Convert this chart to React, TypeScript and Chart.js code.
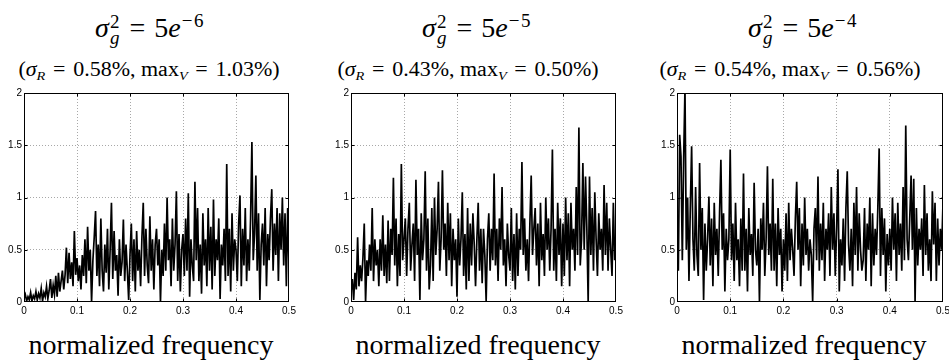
import React, { useEffect, useRef } from "react";
import { Chart, registerables } from "chart.js";

Chart.register(...registerables);

// ---- data ----
const FREQ_STEP = 0.0025;
const freqs: number[] = Array.from({ length: 201 }, (_, i) => i * FREQ_STEP);
const xTicks = [0, 0.1, 0.2, 0.3, 0.4, 0.5];
const yTicks = [0, 0.5, 1, 1.5, 2];

const spectrumA = [
  0.03, 0.07, 0.01, 0.05, 0.02, 0.09, 0.01, 0.06, 0.03, 0.1, 0.02, 0.08, 0.04, 0.13, 0.01, 0.09, 0.05, 0.15, 0.03, 0.11,
  0.22, 0.04, 0.16, 0.07, 0.25, 0.05, 0.28, 0.1, 0.2, 0.3, 0.12, 0.26, 0.52, 0.18, 0.47, 0.22, 0.38, 0.15, 0.68, 0.26,
  0.42, 0.2, 0.35, 0.12, 0.45, 0.25, 0.6, 0.18, 0.72, 0.3, 0.5, 0.0, 0.4, 0.62, 0.87, 0.25, 0.55, 0.15, 0.8, 0.3,
  0.1, 0.55, 0.28, 0.7, 0.12, 0.5, 0.95, 0.22, 0.68, 0.3, 0.45, 0.06, 0.6, 0.25, 0.38, 0.79, 0.2, 0.55, 0.3, 0.02,
  0.45, 0.75, 0.2, 0.6, 0.1, 0.68, 0.3, 0.5, 0.15, 0.62, 0.95, 0.25, 0.7, 0.35, 0.18, 0.82, 0.3, 0.6, 0.12, 0.55,
  0.7, 0.35, 0.6, 0.0, 0.5, 0.25, 0.75, 0.3, 1.0, 0.4, 0.6, 0.15, 0.8, 0.3, 0.55, 1.06, 0.2, 0.65, 0.1, 0.5,
  0.65, 0.25, 0.8, 0.3, 1.04, 0.05, 0.6, 0.35, 0.2, 1.15, 0.4, 0.9, 0.2, 0.55, 0.08, 0.85, 0.35, 0.6, 0.15, 0.9,
  0.3, 0.72, 0.12, 0.98, 0.25, 0.6, 0.4, 0.8, 0.03, 0.55, 0.35, 0.7, 0.2, 1.32, 0.25, 0.7, 0.1, 0.85, 0.3, 0.6,
  0.5, 0.2, 0.75, 1.02, 0.15, 0.7, 0.35, 0.9, 0.2, 0.6, 0.3, 0.8, 1.53, 0.4, 0.65, 1.21, 0.3, 0.85, 0.02, 0.55,
  0.75, 0.35, 0.9, 0.15, 0.65, 0.4, 0.8, 1.08, 0.3, 0.75, 0.45, 0.9, 0.2, 0.85, 0.5, 1.0, 0.35, 0.85, 0.15, 0.9, 0.35,
];

const spectrumB = [
  0.1, 0.22, 0.02, 0.28, 0.12, 0.62, 0.15, 0.35, 0.2, 0.42, 0.75, 0.0, 0.4, 0.25, 0.55, 0.3, 0.9, 0.2, 0.6, 0.35,
  0.5, 0.15, 0.6, 0.3, 0.83, 0.25, 0.55, 0.18, 0.78, 0.2, 0.7, 0.45, 1.19, 0.35, 0.8, 0.15, 0.65, 0.25, 1.32, 0.4,
  0.6, 0.8, 0.25, 0.7, 0.95, 0.3, 0.55, 0.75, 0.2, 1.17, 0.45, 0.7, 0.02, 0.85, 0.4, 0.6, 1.25, 0.3, 0.8, 0.12,
  0.35, 0.9, 0.2, 1.0, 0.45, 0.7, 1.15, 0.3, 0.6, 1.26, 0.5, 0.75, 0.25, 0.95, 0.4, 0.85, 0.15, 0.7, 0.4, 0.6,
  0.05, 0.8, 0.35, 0.6, 1.05, 0.25, 0.65, 0.12, 0.9, 0.2, 0.75, 0.35, 0.85, 0.55, 0.15, 0.6, 0.95, 0.3, 0.7, 0.18,
  0.7, 0.45, 0.01, 0.6, 0.85, 0.3, 0.7, 0.4, 1.23, 0.35, 0.7, 0.2, 0.8, 0.5, 1.1, 0.35, 0.6, 0.15, 0.75, 0.45,
  0.3, 0.9, 0.2, 0.65, 0.12, 0.85, 0.25, 0.7, 0.5, 1.34, 0.45, 0.8, 0.3, 0.6, 0.2, 0.75, 1.21, 0.45, 0.7, 0.9,
  0.35, 0.75, 0.15, 0.95, 0.4, 0.65, 0.25, 1.0, 0.5, 0.8, 0.3, 0.7, 1.46, 0.3, 0.7, 0.2, 0.95, 0.45, 0.8, 0.15,
  0.75, 0.25, 1.0, 0.4, 0.85, 0.15, 0.95, 0.5, 0.7, 0.3, 1.1, 0.45, 1.67, 0.35, 0.6, 1.33, 0.5, 1.2, 0.7, 0.0,
  1.2, 0.45, 0.9, 0.3, 1.05, 0.6, 0.25, 0.85, 0.5, 0.7, 0.3, 1.12, 0.45, 0.95, 0.3, 0.8, 0.5, 0.25, 0.95, 0.4, 0.55,
];

const spectrumC = [
  0.8, 0.3, 1.6, 1.39, 0.4, 1.37, 2.05, 0.5, 1.0, 0.2, 0.9, 1.49, 0.6, 0.3, 1.1, 0.45, 0.25, 1.33, 0.5, 0.9,
  0.02, 0.75, 0.3, 0.6, 1.01, 0.35, 0.8, 0.15, 0.95, 0.45, 0.7, 0.25, 0.85, 1.36, 0.5, 0.85, 0.1, 0.7, 0.4, 0.6,
  1.46, 0.4, 0.75, 0.2, 0.95, 0.4, 0.6, 0.15, 0.8, 0.3, 1.23, 0.3, 0.7, 0.1, 0.9, 0.45, 0.65, 0.25, 1.14, 0.5,
  0.35, 0.7, 0.0, 0.8, 0.5, 0.95, 0.25, 0.6, 1.3, 0.45, 0.75, 0.3, 1.18, 0.3, 0.75, 0.15, 0.9, 0.45, 0.7, 0.1,
  0.6, 0.3, 0.85, 0.2, 0.95, 0.4, 0.7, 0.5, 0.25, 0.8, 1.15, 0.5, 0.9, 0.15, 0.75, 0.35, 1.0, 0.45, 0.7, 0.3,
  0.6, 0.45, 0.0, 0.7, 0.9, 0.4, 1.2, 0.3, 0.75, 0.4, 0.95, 0.2, 0.7, 0.5, 0.85, 0.25, 1.1, 0.5, 0.85, 0.25,
  0.7, 1.27, 0.1, 0.6, 0.35, 0.8, 0.2, 0.9, 1.25, 0.55, 0.3, 0.7, 0.15, 0.95, 0.45, 1.1, 0.3, 0.85, 0.5, 0.3,
  0.4, 0.9, 0.2, 0.75, 0.5, 1.0, 0.15, 0.85, 0.35, 0.7, 0.45, 0.9, 1.47, 0.25, 0.9, 0.45, 0.8, 0.1, 0.65, 0.35,
  0.7, 0.3, 1.0, 0.5, 0.85, 0.2, 0.95, 0.45, 0.75, 0.3, 1.1, 0.4, 1.69, 0.6, 0.4, 0.8, 1.21, 0.5, 1.18, 0.0,
  0.9, 0.35, 0.7, 0.5, 0.8, 0.25, 1.12, 0.45, 0.85, 0.3, 0.6, 0.2, 1.06, 0.55, 0.95, 0.2, 0.8, 0.35, 0.7, 0.5, 0.95,
];

const noiseExponents = ["6", "5", "4"];
const sigmaR = ["0.58", "0.43", "0.54"];
const maxV = ["1.03", "0.50", "0.56"];
const xLabel = "normalized frequency";

const TICK_FONT = '"Liberation Sans", Arial, sans-serif';
const SERIF = '"Liberation Serif", "Times New Roman", serif';

const frameTicks = {
  id: "frameTicks",
  afterDraw(chart: any) {
    const { ctx, chartArea, scales } = chart;
    const l = Math.round(chartArea.left) + 0.5;
    const r = Math.round(chartArea.right) - 0.5;
    const t = Math.round(chartArea.top) + 0.5;
    const b = Math.round(chartArea.bottom) - 0.5;
    ctx.save();
    ctx.strokeStyle = "#000";
    ctx.lineWidth = 1;
    ctx.setLineDash([]);
    ctx.strokeRect(l, t, r - l, b - t);
    ctx.beginPath();
    const tl = 3;
    xTicks.slice(1, -1).forEach((v) => {
      const px = Math.round(scales.x.getPixelForValue(v)) + 0.5;
      ctx.moveTo(px, b);
      ctx.lineTo(px, b - tl);
      ctx.moveTo(px, t);
      ctx.lineTo(px, t + tl);
    });
    yTicks.slice(1, -1).forEach((v) => {
      const py = Math.round(scales.y.getPixelForValue(v)) + 0.5;
      ctx.moveTo(l, py);
      ctx.lineTo(l + tl, py);
      ctx.moveTo(r, py);
      ctx.lineTo(r - tl, py);
    });
    ctx.stroke();
    ctx.restore();
  },
};

function gridColor(ends: number[]) {
  return (c: any) =>
    c.tick && ends.includes(c.tick.value) ? "rgba(0,0,0,0)" : "#a8a8a8";
}

function SpectrumChart({
  values,
  left,
  width,
  padRight,
}: {
  values: number[];
  left: number;
  width: number;
  padRight: number;
}) {
  const ref = useRef<HTMLCanvasElement | null>(null);
  useEffect(() => {
    if (!ref.current) return;
    const chart = new Chart(ref.current, {
      type: "line",
      data: {
        datasets: [
          {
            data: freqs.map((f, i) => ({ x: f, y: values[i] })),
            borderColor: "#000",
            borderWidth: 1.7,
            pointRadius: 0,
            tension: 0,
            fill: false,
            clip: 0,
          },
        ],
      },
      options: {
        animation: false,
        responsive: false,
        maintainAspectRatio: false,
        events: [],
        layout: { padding: { top: 8, right: padRight, left: 0, bottom: 0 } },
        plugins: { legend: { display: false }, tooltip: { enabled: false } },
        scales: {
          x: {
            type: "linear",
            min: 0,
            max: 0.5,
            afterBuildTicks: (s: any) => {
              s.ticks = xTicks.map((v) => ({ value: v }));
            },
            afterFit: (s: any) => {
              s.height = 18;
            },
            grid: { drawTicks: false, color: gridColor([0, 0.5]), lineWidth: 1 },
            border: { display: false, dash: [1, 2] },
            ticks: {
              padding: 3,
              maxRotation: 0,
              autoSkip: false,
              color: "#000",
              font: { family: TICK_FONT, size: 10 },
              callback: (v: any) => String(v),
            },
          },
          y: {
            type: "linear",
            min: 0,
            max: 2,
            afterBuildTicks: (s: any) => {
              s.ticks = yTicks.map((v) => ({ value: v }));
            },
            afterFit: (s: any) => {
              s.width = 24;
            },
            grid: { drawTicks: false, color: gridColor([0, 2]), lineWidth: 1 },
            border: { display: false, dash: [1, 2] },
            ticks: {
              padding: 2,
              autoSkip: false,
              color: "#000",
              font: { family: TICK_FONT, size: 10 },
              callback: (v: any) => String(v),
            },
          },
        },
      },
      plugins: [frameTicks],
    } as any);
    return () => chart.destroy();
  }, [values, padRight]);
  return (
    <canvas
      ref={ref}
      width={width}
      height={235}
      style={{ position: "absolute", left, top: 85, width, height: 235 }}
    />
  );
}

function Title({ cx, exp }: { cx: number; exp: string }) {
  return (
    <div
      style={{
        position: "absolute",
        left: cx,
        top: 12,
        transform: "translateX(-50%)",
        whiteSpace: "nowrap",
        fontFamily: SERIF,
        fontSize: 28,
        lineHeight: "32px",
        color: "#000",
      }}
    >
      <i>σ</i>
      <span style={{ fontSize: 19, position: "relative", top: -9, marginLeft: 1 }}>2</span>
      <span
        style={{ fontSize: 19, fontStyle: "italic", position: "relative", top: 7, marginLeft: -9.5 }}
      >
        g
      </span>
      <span style={{ margin: "0 9px 0 10px" }}>=</span>
      5<i>e</i>
      <span style={{ fontSize: 19, position: "relative", top: -10, marginLeft: 1, letterSpacing: 1.5 }}>
        −{exp}
      </span>
    </div>
  );
}

function Subtitle({ cx, s, m }: { cx: number; s: string; m: string }) {
  const sub: React.CSSProperties = {
    fontSize: 13,
    fontStyle: "italic",
    position: "relative",
    top: 4,
  };
  return (
    <div
      style={{
        position: "absolute",
        left: cx,
        top: 57,
        transform: "translateX(-50%) scaleX(1.1)",
        whiteSpace: "nowrap",
        fontFamily: SERIF,
        fontSize: 20,
        lineHeight: "24px",
        color: "#000",
      }}
    >
      (<i>σ</i>
      <span style={sub}>R</span>
      <span style={{ margin: "0 7px" }}>=</span>
      {s}%,<span style={{ marginLeft: 5 }}>max</span>
      <span style={sub}>V</span>
      <span style={{ margin: "0 7px" }}>=</span>
      {m}%)
    </div>
  );
}

function XLabel({ cx }: { cx: number }) {
  return (
    <div
      style={{
        position: "absolute",
        left: cx,
        top: 329,
        transform: "translateX(-50%)",
        whiteSpace: "nowrap",
        fontFamily: SERIF,
        fontSize: 28,
        lineHeight: "32px",
        color: "#000",
      }}
    >
      {xLabel}
    </div>
  );
}

export default function App() {
  const panels = [
    { values: spectrumA, left: 0, width: 300, padRight: 11, tx: 150, sx: 149, lx: 151 },
    { values: spectrumB, left: 327, width: 300, padRight: 11, tx: 477, sx: 468, lx: 478 },
    { values: spectrumC, left: 653, width: 302, padRight: 12, tx: 803, sx: 790, lx: 804 },
  ];
  return (
    <div
      style={{
        position: "absolute",
        left: 0,
        top: 0,
        width: 949,
        height: 362,
        overflow: "hidden",
        background: "#fff",
      }}
    >
      {panels.map((p, i) => (
        <React.Fragment key={i}>
          <Title cx={p.tx} exp={noiseExponents[i]} />
          <Subtitle cx={p.sx} s={sigmaR[i]} m={maxV[i]} />
          <SpectrumChart values={p.values} left={p.left} width={p.width} padRight={p.padRight} />
          <XLabel cx={p.lx} />
        </React.Fragment>
      ))}
    </div>
  );
}
